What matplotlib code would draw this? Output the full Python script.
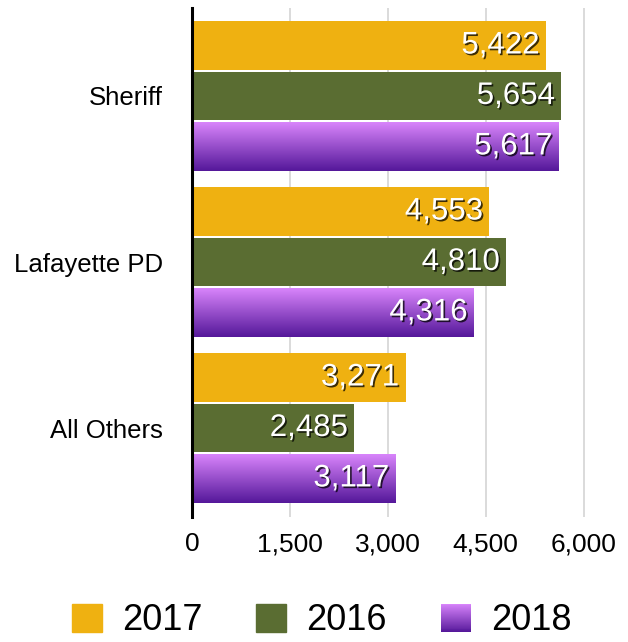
import numpy as np
import matplotlib
matplotlib.use("Agg")
import matplotlib.pyplot as plt
import matplotlib.patheffects as pe
from matplotlib.patches import Patch, Rectangle
from matplotlib.legend_handler import HandlerBase
from matplotlib.colors import to_rgb

# Data
agencies = ["Sheriff", "Lafayette PD", "All Others"]
years = ["2017", "2016", "2018"]
vals_2017 = [5422, 4553, 3271]
vals_2016 = [5654, 4810, 2485]
vals_2018 = [5617, 4316, 3117]
xticks = [0, 1500, 3000, 4500, 6000]

# Colours
gold = "#EFB111"
olive = "#5A6D32"
purple_top = to_rgb("#D884FB")
purple_bot = to_rgb("#55189A")

plt.rcParams["font.family"] = ["Liberation Sans", "DejaVu Sans"]


def gradient_rgb(n):
    t = np.linspace(0, 1, n)[:, None]
    return np.array(purple_top) * (1 - t) + np.array(purple_bot) * t


class GradientHandler(HandlerBase):
    # legend square drawn as stacked stripes to mimic the vertical gradient
    def create_artists(self, legend, orig_handle, xdescent, ydescent,
                       width, height, fontsize, trans):
        n = 30
        cols = gradient_rgb(n)
        arts = []
        for i in range(n):
            y = -ydescent + height * (1 - (i + 1) / n)
            r = Rectangle((-xdescent, y), width, height / n * 1.05,
                          facecolor=cols[i], edgecolor="none", transform=trans)
            arts.append(r)
        return arts


fig = plt.figure(figsize=(6.28, 6.42), dpi=100)
ax = fig.add_axes([192 / 628, 125 / 642, 395 / 628, 509 / 642])

y = np.arange(len(agencies))
off = 0.304
h = 0.293

b17 = ax.barh(y - off, vals_2017, height=h, color=gold, zorder=2)
b16 = ax.barh(y, vals_2016, height=h, color=olive, zorder=2)
b18 = ax.barh(y + off, vals_2018, height=h, color="#8A44C8", zorder=2)

# gradient fill on 2018 bars
grad = gradient_rgb(64)[:, None, :]
for rect in b18:
    x0, y0 = rect.get_x(), rect.get_y()
    w, hh = rect.get_width(), rect.get_height()
    ax.imshow(grad, extent=(x0, x0 + w, y0 + hh, y0), aspect="auto",
              interpolation="bilinear", zorder=2.5)

# value labels inside bar ends
shadow = [pe.SimplePatchShadow(offset=(1.2, -1.2), shadow_rgbFace="black",
                               alpha=0.75), pe.Normal()]
for cont in (b17, b16, b18):
    for rect in cont:
        v = rect.get_width()
        ax.annotate(f"{int(v):,}", (v, rect.get_y() + rect.get_height() / 2),
                    xytext=(-4.5, 0), textcoords="offset points",
                    ha="right", va="center", color="white", fontsize=22.5,
                    path_effects=shadow, zorder=4)

ax.set_xlim(0, 6050)
ax.set_ylim(2.536, -0.53)
ax.set_xticks(xticks)
ax.set_xticklabels([f"{t:,}" for t in xticks], fontsize=19)
ax.set_yticks(y)
ax.set_yticklabels(agencies, fontsize=18.5)
ax.tick_params(axis="both", length=0)
ax.tick_params(axis="x", pad=11)
ax.tick_params(axis="y", pad=21)
ax.xaxis.grid(True, color="#d4d4d4", linewidth=1.2, zorder=0)
ax.set_axisbelow(True)
for s in ("top", "right", "bottom"):
    ax.spines[s].set_visible(False)
ax.spines["left"].set_linewidth(2.2)
ax.spines["left"].set_color("black")
ax.spines["left"].set_zorder(5)

handles = [Patch(color=gold), Patch(color=olive), Patch(color="#8A44C8")]
fig.legend(handles, years, loc="center", bbox_to_anchor=(0.512, 1 - 621 / 642),
           ncol=3, frameon=False, fontsize=26, handlelength=0.83,
           handleheight=0.85, handletextpad=0.55, columnspacing=1.5,
           borderpad=0.2, handler_map={handles[2]: GradientHandler()})

fig.savefig("out.png", dpi=100)
